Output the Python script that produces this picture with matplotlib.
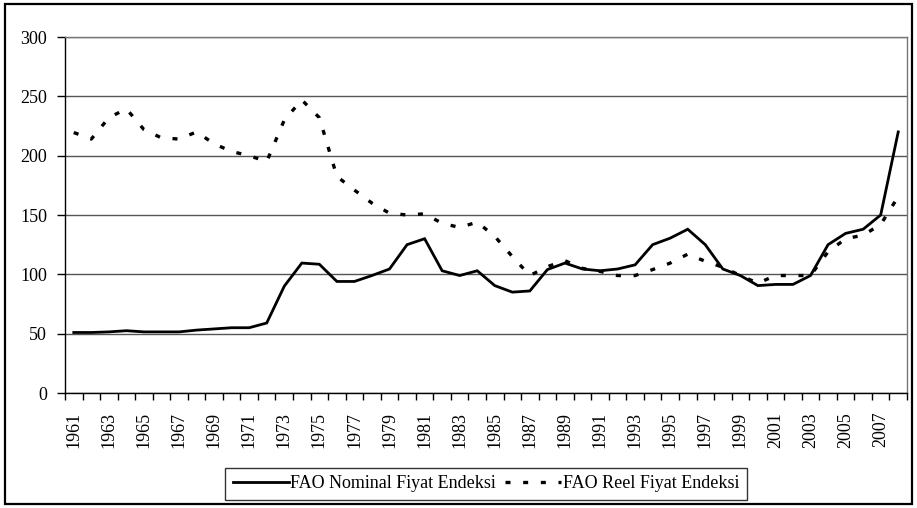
import matplotlib
matplotlib.use("Agg")
import matplotlib.pyplot as plt
from matplotlib.patches import Rectangle

years = list(range(1961, 2009))
nominal = [51, 51, 51.5, 52.5, 51.5, 51.5, 51.5, 53, 54, 55, 55, 59,
           90, 109.5, 108.5, 94, 94, 99, 104.5, 125, 130, 103, 99, 103,
           90.5, 85, 86, 104, 109.5, 104.5, 103, 104.5, 108, 125, 130.5, 138,
           125, 104.5, 99, 90.5, 91.5, 91.5, 99, 125, 134.5, 138, 150, 220]
reel = [219.5, 214, 232, 239.5, 222, 215, 214, 220, 210, 203.5, 200, 195,
        230, 247, 232, 182.5, 171, 160, 151.5, 150, 151, 143, 139.5, 144,
        132, 115, 99, 106.5, 111.5, 105, 102.5, 99, 99, 104, 109.5, 117,
        111, 106, 99, 92.5, 99, 99, 99, 119, 130, 133, 142, 165.5]
series_labels = ["FAO Nominal Fiyat Endeksi", "FAO Reel Fiyat Endeksi"]
yticks = [0, 50, 100, 150, 200, 250, 300]

plt.rcParams['font.family'] = ['Liberation Serif', 'DejaVu Serif']

W, H = 917, 508
fig = plt.figure(figsize=(W / 100, H / 100), dpi=100)
ax = fig.add_axes([65 / W, (H - 393) / H, 842 / W, 356 / H])

x = list(range(len(years)))
l1, = ax.plot(x, nominal, color='black', lw=2.0, solid_joinstyle='miter',
              label=series_labels[0])
l2, = ax.plot(x, reel, color='black', lw=2.4, linestyle=(0, (1.5, 3.8)),
              dash_capstyle='butt', label=series_labels[1])

ax.set_xlim(-0.5, len(years) - 0.5)
ax.set_ylim(0, 300)
ax.set_yticks(yticks)
ax.set_yticklabels([str(v) for v in yticks], fontsize=13)
ax.yaxis.grid(True, color='#555555', lw=1)
ax.set_axisbelow(True)

ax.set_xticks(x[::2])
ax.set_xticklabels([str(y) for y in years[::2]], rotation=90, fontsize=13)
ax.set_xticks([i - 0.5 for i in range(len(years) + 1)], minor=True)
ax.tick_params(axis='x', which='major', length=0, pad=13.5)
ax.tick_params(axis='x', which='minor', length=5, width=1, direction='out')
ax.tick_params(axis='y', length=6, width=1, pad=7)

for s in ['left', 'bottom']:
    ax.spines[s].set_color('black')
    ax.spines[s].set_linewidth(1)
for s in ['top', 'right']:
    ax.spines[s].set_color('#777777')
    ax.spines[s].set_linewidth(1)

leg = fig.legend(handles=[l1, l2], labels=series_labels, loc='center',
                 bbox_to_anchor=(486 / W, 1 - 484 / H), ncol=2, fontsize=13,
                 frameon=True, fancybox=False, edgecolor='black',
                 handlelength=3.1, handletextpad=0.1, columnspacing=0.5,
                 borderpad=0.42, borderaxespad=0)
leg.get_frame().set_linewidth(1)

fig.patches.append(Rectangle((5 / W, 4 / H), 907 / W, 500 / H,
                             transform=fig.transFigure, fill=False,
                             edgecolor='black', lw=1.6))

fig.savefig('out.png', dpi=100)
